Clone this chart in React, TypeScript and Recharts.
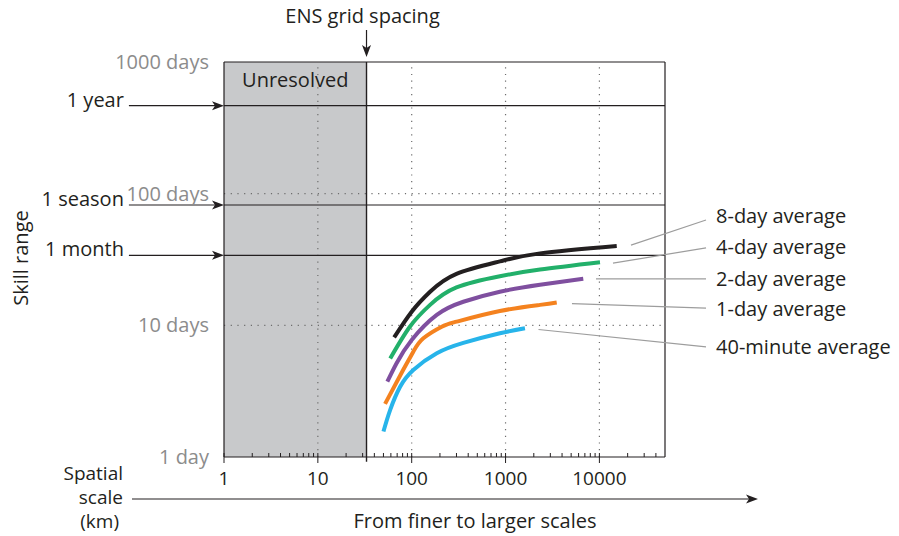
import { LineChart, Line, XAxis, YAxis, ReferenceLine, ReferenceArea } from 'recharts'

const W = 899
const H = 536
const INK = '#231f20'
const GREY_TEXT = '#8c8c8c'
const LEADER = '#9d9d9d'

// skill range (days) against spatial scale (km), one list per averaging window
const eightDay = [
  { km: 65, days: 8.1 }, { km: 100, days: 12.7 }, { km: 157, days: 18.0 }, { km: 300, days: 24.6 },
  { km: 870, days: 30.6 }, { km: 2330, days: 35.2 }, { km: 15300, days: 40.0 },
]
const fourDay = [
  { km: 59, days: 5.6 }, { km: 96, days: 9.8 }, { km: 157, days: 14.3 }, { km: 300, days: 19.4 },
  { km: 870, days: 23.6 }, { km: 2330, days: 26.5 }, { km: 10150, days: 30.1 },
]
const twoDay = [
  { km: 55, days: 3.73 }, { km: 69, days: 5.15 }, { km: 100, days: 7.74 }, { km: 185, days: 12.0 },
  { km: 355, days: 15.1 }, { km: 870, days: 18.0 }, { km: 2330, days: 20.3 }, { km: 6730, days: 22.6 },
]
const oneDay = [
  { km: 52, days: 2.53 }, { km: 81, days: 4.58 }, { km: 104, days: 6.3 }, { km: 133, days: 7.97 },
  { km: 209, days: 9.77 }, { km: 301, days: 10.66 }, { km: 870, days: 12.85 }, { km: 2330, days: 14.3 },
  { km: 3510, days: 14.9 },
]
const fortyMinute = [
  { km: 50, days: 1.56 }, { km: 59, days: 2.28 }, { km: 75, days: 3.4 }, { km: 104, days: 4.58 },
  { km: 185, days: 6.13 }, { km: 355, days: 7.35 }, { km: 870, days: 8.7 }, { km: 1610, days: 9.5 },
]

const series = [
  { name: '8-day average', data: eightDay, color: '#231f20' },
  { name: '4-day average', data: fourDay, color: '#22b06a' },
  { name: '2-day average', data: twoDay, color: '#7f4f9f' },
  { name: '1-day average', data: oneDay, color: '#f4821f' },
  { name: '40-minute average', data: fortyMinute, color: '#27b4ea' },
]

// leader lines from curve ends to their labels: [km, days] -> [km, days]
const leaders = [
  { label: '8-day average', from: [21700, 40.7], to: [136800, 63.1], dy: 3 },
  { label: '4-day average', from: [13960, 29.7], to: [136800, 38.7], dy: 6 },
  { label: '2-day average', from: [9200, 22.5], to: [136800, 22.5], dy: 7 },
  { label: '1-day average', from: [5100, 14.6], to: [136800, 13.5], dy: 8 },
  { label: '40-minute average', from: [2245, 9.3], to: [136800, 6.85], dy: 7 },
]

// reference time horizons (days)
const horizons = [
  { label: '1 year', days: 466 },
  { label: '1 season', days: 82 },
  { label: '1 month', days: 34 },
]

const ENS_KM = 33
const KM_DOMAIN = [1, 50000]
const DAY_DOMAIN = [1, 1000]
const MAJOR_TICKS = [1, 10, 100, 1000, 10000]
const DAY_TICKS = [1, 10, 100, 1000]
const GRID_KM = [10, 100, 1000, 10000]
const GRID_DAYS = [10, 100]
const ARROW_START_KM = 0.097

const minorTicks: number[] = []
MAJOR_TICKS.forEach((base) => {
  for (let m = 2; m <= 9; m++) if (base * m < KM_DOMAIN[1]) minorTicks.push(base * m)
})
const kmTicks = [...MAJOR_TICKS, ...minorTicks].sort((a, b) => a - b)

const KmTick = ({ x, y, payload }: any) => {
  const major = MAJOR_TICKS.includes(payload.value)
  return (
    <g>
      <line x1={x} x2={x} y1={y - 4} y2={major ? y + 6 : y} stroke={INK} strokeWidth={1} />
      {major && (
        <text x={x} y={y + 28} textAnchor="middle" fontSize={19} fill={INK}>
          {payload.value}
        </text>
      )}
    </g>
  )
}

const horizonArrow = (label: string) => (p: any) => (
  <g>
    <line x1={p.x1} y1={p.y1} x2={p.x2 - 8} y2={p.y2} stroke={INK} strokeWidth={1.2} />
    <path d={`M${p.x2},${p.y2} L${p.x2 - 12},${p.y2 - 4.5} L${p.x2 - 9},${p.y2} L${p.x2 - 12},${p.y2 + 4.5} Z`} fill={INK} />
    <text x={p.x1 - 5} y={p.y1 + 1} textAnchor="end" fontSize={20} fill={INK}>{label}</text>
  </g>
)

const ensArrow = (p: any) => (
  <g>
    <line x1={p.x1} y1={p.y1} x2={p.x2} y2={p.y2 - 8} stroke={INK} strokeWidth={1.2} />
    <path d={`M${p.x2},${p.y2} L${p.x2 - 4.5},${p.y2 - 12} L${p.x2},${p.y2 - 9} L${p.x2 + 4.5},${p.y2 - 12} Z`} fill={INK} />
    <text x={p.x1 - 4} y={p.y1 - 7} textAnchor="middle" fontSize={20} fill={INK}>ENS grid spacing</text>
  </g>
)

const leaderShape = (label: string, dy: number) => (p: any) => (
  <g>
    <line x1={p.x1} y1={p.y1} x2={p.x2} y2={p.y2} stroke={LEADER} strokeWidth={1.2} />
    <text x={p.x2 + 10} y={p.y2 + dy} fontSize={20} fill={INK}>{label}</text>
  </g>
)

export default function App() {
  return (
    <div style={{ position: 'absolute', left: 0, top: 0, width: W, height: H, fontFamily: '"Open Sans", sans-serif', background: '#fff' }}>
      <LineChart width={W} height={H} margin={{ top: 62, right: 234, bottom: 49, left: 84 }}>
        <XAxis
          dataKey="km" type="number" scale="log" domain={KM_DOMAIN} allowDataOverflow
          ticks={kmTicks} interval={0} tick={<KmTick />} tickLine={false} tickSize={0} tickMargin={0}
          axisLine={{ stroke: INK, strokeWidth: 1.2 }} height={30}
        />
        <YAxis
          dataKey="days" type="number" scale="log" domain={DAY_DOMAIN} allowDataOverflow
          ticks={DAY_TICKS} interval={0} tickLine={false} tickMargin={9} width={140}
          tickFormatter={(v: number) => (v === 1 ? '1 day' : `${v} days`)}
          tick={{ fill: GREY_TEXT, fontSize: 20 }} axisLine={{ stroke: INK, strokeWidth: 1.2 }}
        />

        <ReferenceArea
          x1={KM_DOMAIN[0]} x2={ENS_KM} y1={DAY_DOMAIN[0]} y2={DAY_DOMAIN[1]} ifOverflow="visible"
          fill="#c8c9cb" fillOpacity={1} stroke="none"
          label={{ value: 'Unresolved', position: 'insideTop', offset: 11, fontSize: 20, fill: INK }}
        />

        {GRID_KM.map((k) => (
          <ReferenceLine key={`gx${k}`} x={k} stroke="#6d6d6d" strokeWidth={1.2} strokeDasharray="1.2 5.5" ifOverflow="visible" />
        ))}
        {GRID_DAYS.map((d) => (
          <ReferenceLine key={`gy${d}`} y={d} stroke="#6d6d6d" strokeWidth={1.2} strokeDasharray="1.2 5.5" ifOverflow="visible" />
        ))}

        <ReferenceLine y={DAY_DOMAIN[1]} stroke={INK} strokeWidth={1.2} ifOverflow="visible" />
        <ReferenceLine x={KM_DOMAIN[1]} stroke={INK} strokeWidth={1.2} ifOverflow="visible" />

        {horizons.map((h) => (
          <ReferenceLine key={h.label} y={h.days} stroke={INK} strokeWidth={1.2} ifOverflow="visible" />
        ))}
        {horizons.map((h) => (
          <ReferenceLine
            key={`a${h.label}`} ifOverflow="visible"
            segment={[{ x: ARROW_START_KM, y: h.days }, { x: KM_DOMAIN[0], y: h.days }]}
            shape={horizonArrow(h.label)}
          />
        ))}

        <ReferenceLine
          segment={[{ x: ENS_KM, y: 0.92 }, { x: ENS_KM, y: DAY_DOMAIN[1] }]}
          stroke={INK} strokeWidth={1.4} ifOverflow="visible"
        />
        <ReferenceLine
          segment={[{ x: ENS_KM, y: 1750 }, { x: ENS_KM, y: 1090 }]}
          ifOverflow="visible" shape={ensArrow}
        />

        {leaders.map((l) => (
          <ReferenceLine
            key={`l${l.label}`} ifOverflow="visible"
            segment={[{ x: l.from[0], y: l.from[1] }, { x: l.to[0], y: l.to[1] }]}
            shape={leaderShape(l.label, l.dy)}
          />
        ))}

        {series.map((s) => (
          <Line
            key={s.name} data={s.data} dataKey="days" name={s.name} type="natural"
            stroke={s.color} strokeWidth={4} dot={false} activeDot={false} isAnimationActive={false}
          />
        ))}
      </LineChart>

      <svg width={W} height={H} style={{ position: 'absolute', left: 0, top: 0, pointerEvents: 'none' }}>
        <text transform="translate(28,258) rotate(-90)" textAnchor="middle" fontSize={20} fill={INK}>Skill range</text>
        <text x={123} y={480} textAnchor="end" fontSize={19} fill={INK}>Spatial</text>
        <text x={123} y={504} textAnchor="end" fontSize={19} fill={INK}>scale</text>
        <text x={119} y={528} textAnchor="end" fontSize={19} fill={INK}>(km)</text>
        <line x1={132} y1={499} x2={750} y2={499} stroke={INK} strokeWidth={1.2} />
        <path d="M758,499 L746,494.5 L749,499 L746,503.5 Z" fill={INK} />
        <text x={475} y={528} textAnchor="middle" fontSize={20} fill={INK}>From finer to larger scales</text>
      </svg>
    </div>
  )
}
